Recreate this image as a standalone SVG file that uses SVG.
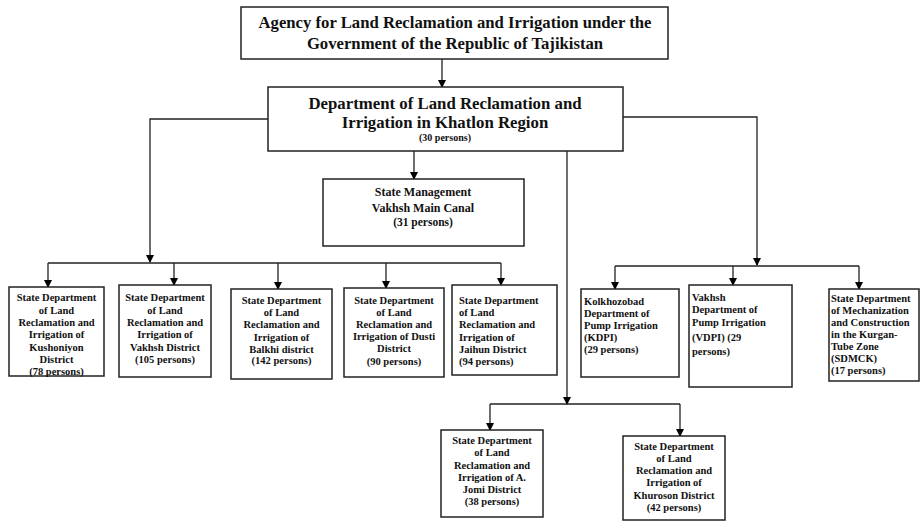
<svg xmlns="http://www.w3.org/2000/svg" width="921" height="522" viewBox="0 0 921 522">
<defs>
<marker id="ah" markerUnits="userSpaceOnUse" markerWidth="8" markerHeight="8" refX="7" refY="4" orient="auto">
<path d="M0,0 L8,4 L0,8 z" fill="#000"/>
</marker>
<style>
.box{fill:#fff;stroke:#222;stroke-width:1.5}
.ln{fill:none;stroke:#222;stroke-width:1.3}
.ar{fill:none;stroke:#222;stroke-width:1.3;marker-end:url(#ah)}
text{font-family:"Liberation Serif","Times New Roman",serif;font-weight:bold;fill:#111}
.t1{font-size:16.7px;text-anchor:middle}
.t2{font-size:16.8px;text-anchor:middle}
.t3{font-size:12px;text-anchor:middle}
.s{font-size:10.5px}
.c{text-anchor:middle}
.sm{font-size:10px;text-anchor:middle}
</style>
</defs>
<rect width="921" height="522" fill="#fff"/>
<g id="connectors">
<path class="ar" d="M442,59 V87"/>
<path class="ar" d="M414,151 V179"/>
<path class="ar" d="M268,119 H150 V262"/>
<path class="ln" d="M48,263 H501"/>
<path class="ar" d="M48,263 V287"/>
<path class="ar" d="M174,263 V285"/>
<path class="ar" d="M278,263 V289"/>
<path class="ar" d="M386,263 V288"/>
<path class="ar" d="M501,263 V285"/>
<path class="ar" d="M623,117 H757 V265"/>
<path class="ln" d="M615,266 H859"/>
<path class="ar" d="M615,266 V289"/>
<path class="ar" d="M733,266 V285"/>
<path class="ar" d="M859,266 V289"/>
<path class="ar" d="M567,151 V404"/>
<path class="ln" d="M490,404 H680"/>
<path class="ar" d="M490,404 V430"/>
<path class="ar" d="M680,404 V436"/>
</g>
<g id="agency">
<rect class="box" x="241" y="7" width="427" height="52"/>
<text class="t1" x="455" y="28">Agency for Land Reclamation and Irrigation under the</text>
<text class="t1" x="455" y="49">Government of the Republic of Tajikistan</text>
</g>
<g id="khatlon">
<rect class="box" x="268" y="87" width="355" height="64"/>
<text class="t2" x="445" y="109">Department of Land Reclamation and</text>
<text class="t2" x="445" y="128">Irrigation in Khatlon Region</text>
<text class="sm" x="445" y="141">(30 persons)</text>
</g>
<g id="vakhsh-canal">
<rect class="box" x="323" y="179" width="201" height="67"/>
<text class="t3" x="423" y="196">State Management</text>
<text class="t3" x="423" y="212">Vakhsh Main Canal</text>
<text class="sm" x="423" y="226" style="font-size:11.5px">(31 persons)</text>
</g>
<g id="kushoniyon">
<rect class="box" x="9" y="287" width="95" height="89"/>
<text class="s c" x="56.5" y="301">State Department</text>
<text class="s c" x="56.5" y="314">of Land</text>
<text class="s c" x="56.5" y="326">Reclamation and</text>
<text class="s c" x="56.5" y="338">Irrigation of</text>
<text class="s c" x="56.5" y="351">Kushoniyon</text>
<text class="s c" x="56.5" y="363">District</text>
<text class="s c" x="56.5" y="375">(78 persons)</text>
</g>
<g id="vakhsh-district">
<rect class="box" x="119" y="285" width="92" height="92"/>
<text class="s c" x="165" y="301">State Department</text>
<text class="s c" x="165" y="314">of Land</text>
<text class="s c" x="165" y="326">Reclamation and</text>
<text class="s c" x="165" y="338">Irrigation of</text>
<text class="s c" x="165" y="351">Vakhsh District</text>
<text class="s c" x="165" y="363">(105 persons)</text>
</g>
<g id="balkhi">
<rect class="box" x="231" y="289" width="101" height="90"/>
<text class="s c" x="281.5" y="304">State Department</text>
<text class="s c" x="281.5" y="316">of Land</text>
<text class="s c" x="281.5" y="328">Reclamation and</text>
<text class="s c" x="281.5" y="341">Irrigation of</text>
<text class="s c" x="281.5" y="353">Balkhi district</text>
<text class="s c" x="281.5" y="364">(142 persons)</text>
</g>
<g id="dusti">
<rect class="box" x="344" y="288" width="100" height="89"/>
<text class="s c" x="394" y="304">State Department</text>
<text class="s c" x="394" y="316">of Land</text>
<text class="s c" x="394" y="328">Reclamation and</text>
<text class="s c" x="394" y="340">Irrigation of Dusti</text>
<text class="s c" x="394" y="352">District</text>
<text class="s c" x="394" y="365">(90 persons)</text>
</g>
<g id="jaihun">
<rect class="box" x="452" y="285" width="105" height="90"/>
<text class="s" x="459" y="304">State Department</text>
<text class="s" x="459" y="316">of Land</text>
<text class="s" x="459" y="328">Reclamation and</text>
<text class="s" x="459" y="341">Irrigation of</text>
<text class="s" x="459" y="353">Jaihun District</text>
<text class="s" x="459" y="365">(94 persons)</text>
</g>
<g id="kdpi">
<rect class="box" x="581" y="289" width="98" height="88"/>
<text class="s" x="584" y="305">Kolkhozobad</text>
<text class="s" x="584" y="317">Department of</text>
<text class="s" x="584" y="329">Pump Irrigation</text>
<text class="s" x="584" y="341">(KDPI)</text>
<text class="s" x="584" y="353">(29 persons)</text>
</g>
<g id="vdpi">
<rect class="box" x="689" y="285" width="103" height="102"/>
<text class="s" x="692" y="301">Vakhsh</text>
<text class="s" x="692" y="313">Department of</text>
<text class="s" x="692" y="326">Pump Irrigation</text>
<text class="s" x="692" y="341">(VDPI) (29</text>
<text class="s" x="692" y="355">persons)</text>
</g>
<g id="sdmck">
<rect class="box" x="829" y="289" width="90" height="92"/>
<text class="s" x="831" y="302">State Department</text>
<text class="s" x="831" y="314">of Mechanization</text>
<text class="s" x="831" y="326">and Construction</text>
<text class="s" x="831" y="338">in the Kurgan-</text>
<text class="s" x="831" y="350">Tube Zone</text>
<text class="s" x="831" y="362">(SDMCK)</text>
<text class="s" x="831" y="374">(17 persons)</text>
</g>
<g id="a-jomi">
<rect class="box" x="441" y="430" width="102" height="87"/>
<text class="s c" x="492" y="444">State Department</text>
<text class="s c" x="492" y="456">of Land</text>
<text class="s c" x="492" y="469">Reclamation and</text>
<text class="s c" x="492" y="481">Irrigation of A.</text>
<text class="s c" x="492" y="493">Jomi District</text>
<text class="s c" x="492" y="505">(38 persons)</text>
</g>
<g id="khuroson">
<rect class="box" x="623" y="436" width="102" height="84"/>
<text class="s c" x="674" y="450">State Department</text>
<text class="s c" x="674" y="462">of Land</text>
<text class="s c" x="674" y="474">Reclamation and</text>
<text class="s c" x="674" y="486">Irrigation of</text>
<text class="s c" x="674" y="499">Khuroson District</text>
<text class="s c" x="674" y="511">(42 persons)</text>
</g>
</svg>
